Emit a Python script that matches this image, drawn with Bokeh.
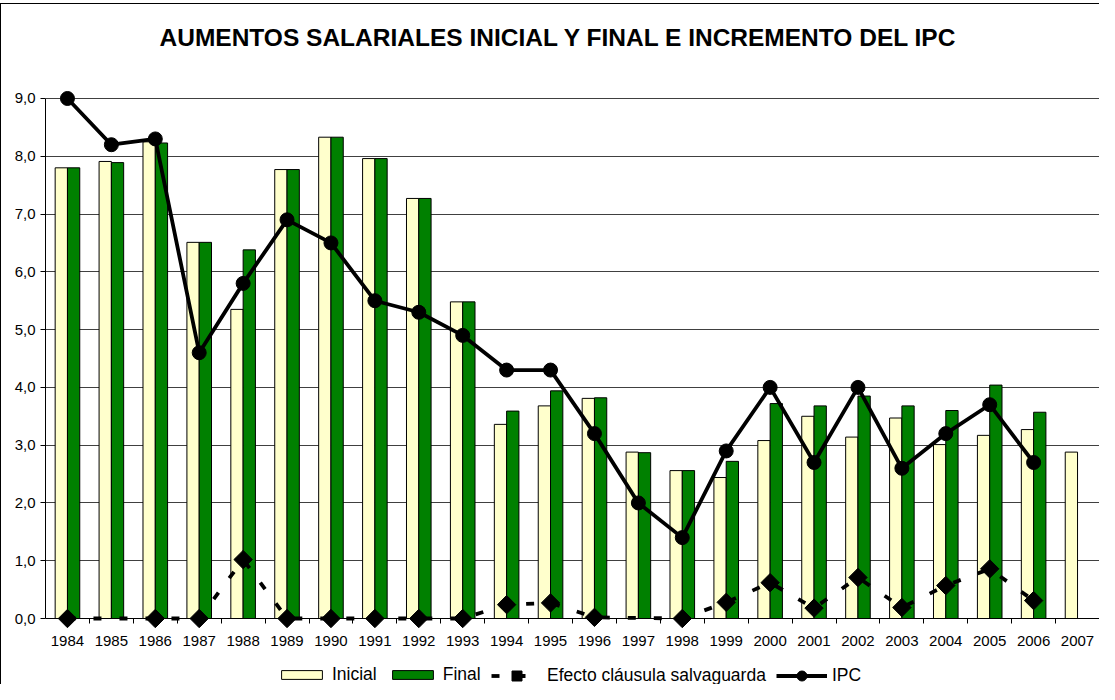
import numpy as np
from bokeh.plotting import figure
from bokeh.models import (FixedTicker, CustomJSTickFormatter, Legend, LegendItem, Range1d)
from bokeh.embed import file_html
from bokeh.resources import INLINE

# ---------------- data ----------------
years = [1984, 1985, 1986, 1987, 1988, 1989, 1990, 1991, 1992, 1993, 1994, 1995,
         1996, 1997, 1998, 1999, 2000, 2001, 2002, 2003, 2004, 2005, 2006, 2007]
inicial = [7.80, 7.91, 8.25, 6.51, 5.35, 7.77, 8.33, 7.96, 7.27, 5.48, 3.36, 3.68,
           3.81, 2.88, 2.56, 2.44, 3.08, 3.50, 3.14, 3.47, 3.01, 3.17, 3.27, 2.88]
final = [7.80, 7.89, 8.23, 6.51, 6.38, 7.77, 8.33, 7.96, 7.27, 5.48, 3.59, 3.94,
         3.82, 2.87, 2.56, 2.72, 3.72, 3.68, 3.85, 3.68, 3.60, 4.04, 3.57, None]
efecto = [0.0, None, 0.0, 0.0, 1.02, 0.0, 0.0, 0.0, 0.0, 0.0, 0.24, 0.27,
          0.02, None, 0.0, 0.28, 0.62, 0.18, 0.71, 0.19, 0.57, 0.86, 0.31, None]
ipc = [9.0, 8.2, 8.3, 4.6, 5.8, 6.9, 6.5, 5.5, 5.3, 4.9, 4.3, 4.3,
       3.2, 2.0, 1.4, 2.9, 4.0, 2.7, 4.0, 2.6, 3.2, 3.7, 2.7, None]
y_ticks = [0, 1, 2, 3, 4, 5, 6, 7, 8, 9]
title_text = "AUMENTOS SALARIALES INICIAL Y FINAL E INCREMENTO DEL IPC"
series_names = ["Inicial", "Final", "Efecto cláusula salvaguarda", "IPC"]


def as_nan(vals):
    return [np.nan if v is None else v for v in vals]


FONT = "Liberation Sans"
BAR_W = 0.28
yrs = np.array(years, dtype=float)

# frame runs down to the bottom of the canvas; the x axis is pinned at y = 0
p = figure(width=1099, height=684, output_backend="svg", toolbar_location=None,
           x_range=Range1d(years[0] - 0.5, years[-1] + 0.5),
           y_range=Range1d(-1.142, 9.692),
           min_border_left=45, min_border_right=0, min_border_top=58, min_border_bottom=0,
           background_fill_color="white", border_fill_color=None,
           outline_line_color=None, title=title_text)

p.styles = {
    "background-image": "linear-gradient(#000, #000), linear-gradient(#000, #000)",
    "background-size": "100% 1px, 1px 100%",
    "background-position": "0 3px, 0 3px",
    "background-repeat": "no-repeat",
    "background-color": "white",
}

# title
p.title.text_font = FONT
p.title.text_font_size = "24.5px"
p.title.text_font_style = "bold"
p.title.text_color = "black"
p.title.align = "left"
p.title.offset = 114
p.title.standoff = 15

# bars
r_ini = p.vbar(x=yrs - BAR_W / 2, top=as_nan(inicial), bottom=0, width=BAR_W,
               fill_color="#FFFFCC", line_color="black", line_width=1)
r_fin = p.vbar(x=yrs + BAR_W / 2, top=as_nan(final), bottom=0, width=BAR_W,
               fill_color="#008000", line_color="black", line_width=1)

# efecto (Excel connects across blank cells)
ex = [y for y, v in zip(years, efecto) if v is not None]
ev = [v for v in efecto if v is not None]
r_efl = p.line(ex, ev, line_color="black", line_width=3.8, line_dash="8 18")
r_efm = p.scatter(ex, ev, marker="square", size=13, angle=np.pi / 4,
                  fill_color="black", line_color="black")

# IPC
r_ipl = p.line(yrs, as_nan(ipc), line_color="black", line_width=3.8, line_join="round")
r_ipm = p.scatter(yrs, as_nan(ipc), marker="circle", size=14,
                  fill_color="black", line_color="black")

# axes
boundaries = [y + 0.5 for y in years[:-1]]
xa = p.xaxis[0]
xa.fixed_location = 0
xa.ticker = FixedTicker(ticks=years, minor_ticks=boundaries)
xa.major_tick_line_color = None
xa.major_tick_out = 5
xa.major_tick_in = 0
xa.minor_tick_line_color = "black"
xa.minor_tick_out = 5
xa.minor_tick_in = 0
xa.axis_line_color = "black"
xa.major_label_text_font = FONT
xa.major_label_text_font_size = "15px"
xa.major_label_text_color = "black"
xa.major_label_standoff = 12

ya = p.yaxis[0]
ya.ticker = FixedTicker(ticks=y_ticks, minor_ticks=[])
ya.formatter = CustomJSTickFormatter(code="return tick.toFixed(1).replace('.', ',');")
ya.bounds = (0, 9)
ya.major_tick_out = 5
ya.major_tick_in = 0
ya.major_tick_line_color = "black"
ya.minor_tick_line_color = None
ya.axis_line_color = "black"
ya.major_label_text_font = FONT
ya.major_label_text_font_size = "15px"
ya.major_label_text_color = "black"
ya.major_label_standoff = 5

p.xgrid.visible = False
p.ygrid.ticker = FixedTicker(ticks=y_ticks, minor_ticks=[])
p.ygrid.grid_line_color = "#404040"
p.ygrid.grid_line_width = 1

LEG = dict(orientation="horizontal", glyph_width=51, label_standoff=5, spacing=10,
           padding=0, margin=0, border_line_color=None, background_fill_alpha=0,
           label_text_font=FONT, label_text_font_size="17.5px", label_text_color="black")

# bar keys: flat swatches
leg_bars = Legend(items=[
    LegendItem(label=series_names[0], renderers=[r_ini]),
    LegendItem(label=series_names[1], renderers=[r_fin]),
], location=(231, -1), glyph_height=11, **LEG)

# line keys: taller key box so the markers are drawn at a readable size
leg_lines = Legend(items=[
    LegendItem(label=series_names[2], renderers=[r_efl, r_efm]),
    LegendItem(label=series_names[3], renderers=[r_ipl, r_ipm]),
], location=(446, -3.5), glyph_height=25, **LEG)

p.add_layout(leg_bars)
p.add_layout(leg_lines)

open("out.html", "w").write(file_html(p, INLINE))
